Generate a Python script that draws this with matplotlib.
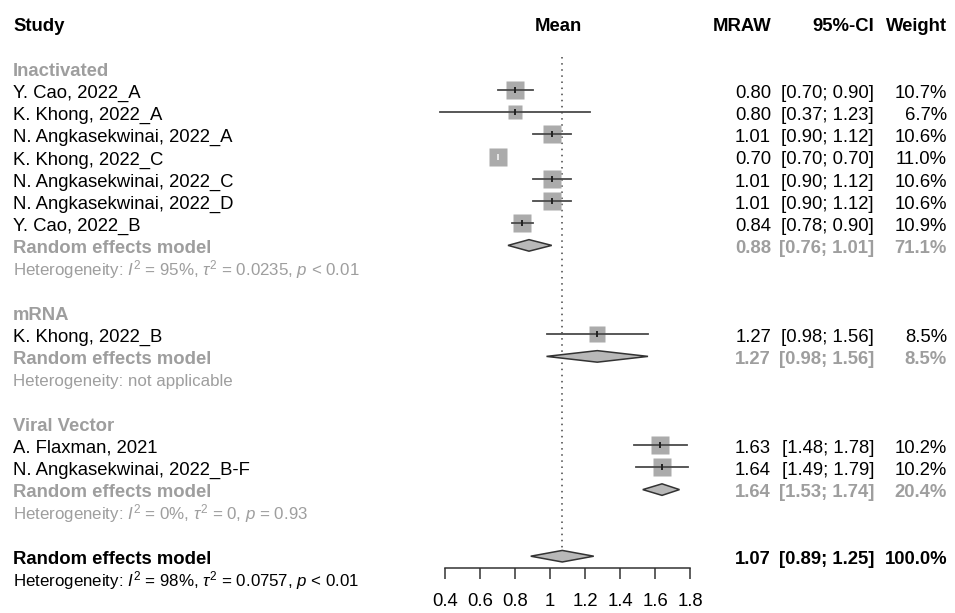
import numpy as np
import matplotlib
matplotlib.use('Agg')
import matplotlib.pyplot as plt
from matplotlib.patches import Polygon
from matplotlib.transforms import blended_transform_factory
from matplotlib.ticker import FormatStrFormatter

plt.rcParams['font.family'] = ['Liberation Sans', 'DejaVu Sans']
plt.rcParams['mathtext.fontset'] = 'custom'
plt.rcParams['mathtext.rm'] = 'Liberation Sans'
plt.rcParams['mathtext.it'] = 'Liberation Sans:italic'

# dados dos estudos (por grupo)
grupos = ['Inactivated', 'mRNA', 'Viral Vector']

estudos = [
    ['Y. Cao, 2022_A', 'K. Khong, 2022_A', 'N. Angkasekwinai, 2022_A', 'K. Khong, 2022_C',
     'N. Angkasekwinai, 2022_C', 'N. Angkasekwinai, 2022_D', 'Y. Cao, 2022_B'],
    ['K. Khong, 2022_B'],
    ['A. Flaxman, 2021', 'N. Angkasekwinai, 2022_B-F'],
]
media = [
    [0.80, 0.80, 1.01, 0.70, 1.01, 1.01, 0.84],
    [1.27],
    [1.63, 1.64],
]
inferior = [
    [0.70, 0.37, 0.90, 0.70, 0.90, 0.90, 0.78],
    [0.98],
    [1.48, 1.49],
]
superior = [
    [0.90, 1.23, 1.12, 0.70, 1.12, 1.12, 0.90],
    [1.56],
    [1.78, 1.79],
]
peso = [
    [10.7, 6.7, 10.6, 11.0, 10.6, 10.6, 10.9],
    [8.5],
    [10.2, 10.2],
]

# modelos de efeitos aleatorios por grupo
re_media = [0.88, 1.27, 1.64]
re_inf = [0.76, 0.98, 1.53]
re_sup = [1.01, 1.56, 1.74]
re_peso = [71.1, 8.5, 20.4]
heterog = [
    r'Heterogeneity: $I^2$ = 95%, $\tau^2$ = 0.0235, $p$ < 0.01',
    'Heterogeneity: not applicable',
    r'Heterogeneity: $I^2$ = 0%, $\tau^2$ = 0, $p$ = 0.93',
]

# modelo geral
geral = (1.07, 0.89, 1.25, 100.0)
heterog_geral = r'Heterogeneity: $I^2$ = 98%, $\tau^2$ = 0.0757, $p$ < 0.01'

ticks_x = [0.4, 0.6, 0.8, 1.0, 1.2, 1.4, 1.6, 1.8]

CINZA = '#9e9e9e'
FS = 13.3
FS_HET = 12.2

# escala: 0.4 -> 445 px, 1.8 -> 690 px ; linha k -> 90 + 22.2*k px
W, H = 955, 613
px_por_val = (690 - 445) / (1.8 - 0.4)
x0 = 0.4 - 445 / px_por_val
x1 = 0.4 + (W - 445) / px_por_val
dy = 22.2
y_top = -90 / dy
y_bot = (H - 90) / dy

fig = plt.figure(figsize=(W / 100, H / 100), dpi=100)
ax = fig.add_axes([0, 0, 1, 1])
ax.set_xlim(x0, x1)
ax.set_ylim(y_bot, y_top)
for s in ['top', 'left', 'right']:
    ax.spines[s].set_visible(False)
ax.set_yticks([])

tr = blended_transform_factory(ax.transAxes, ax.transData)
OFF = 0.35  # deslocamento da linha de base


def txt(xpx, y, s, ha='left', cor='black', peso_fonte='normal', fs=FS):
    ax.text(xpx / W, y + OFF, s, transform=tr, ha=ha, va='baseline',
            color=cor, fontweight=peso_fonte, fontsize=fs)


def colunas(y, m, lo, hi, w, cor='black', peso_fonte='normal'):
    txt(771, y, f'{m:.2f}', ha='right', cor=cor, peso_fonte=peso_fonte)
    txt(874, y, f'[{lo:.2f}; {hi:.2f}]', ha='right', cor=cor, peso_fonte=peso_fonte)
    txt(947, y, f'{w:.1f}%', ha='right', cor=cor, peso_fonte=peso_fonte)


def diamante(y, m, lo, hi):
    h = 0.26
    ax.add_patch(Polygon([(lo, y), (m, y - h), (hi, y), (m, y + h)], closed=True,
                         facecolor='#b8b8b8', edgecolor='#333333', lw=1.1, zorder=3))


# cabecalho
txt(13, -3, 'Study', peso_fonte='bold')
txt(558, -3, 'Mean', ha='center', peso_fonte='bold')
txt(771, -3, 'MRAW', ha='right', peso_fonte='bold')
txt(874, -3, '95%-CI', ha='right', peso_fonte='bold')
txt(947, -3, 'Weight', ha='right', peso_fonte='bold')

k = -1
for g in range(len(grupos)):
    txt(13, k, grupos[g], cor=CINZA, peso_fonte='bold')
    k += 1
    for i in range(len(estudos[g])):
        m, lo, hi, w = media[g][i], inferior[g][i], superior[g][i], peso[g][i]
        txt(13, k, estudos[g][i])
        lado = 3.962 * np.sqrt(w)
        ax.plot([m], [k], marker='s', markersize=lado, color='#ababab', mec='none', zorder=2)
        ax.plot([lo, hi], [k, k], color='#4a4a4a', lw=1.3, zorder=3)
        cor_tick = '#e8e8e8' if lo == hi else '#222222'
        ax.plot([m], [k], marker='|', markersize=4.5, mew=1.4, color=cor_tick, zorder=4)
        colunas(k, m, lo, hi, w)
        k += 1
    txt(13, k, 'Random effects model', cor=CINZA, peso_fonte='bold')
    diamante(k, re_media[g], re_inf[g], re_sup[g])
    colunas(k, re_media[g], re_inf[g], re_sup[g], re_peso[g], cor=CINZA, peso_fonte='bold')
    k += 1
    txt(13, k, heterog[g], cor=CINZA, fs=FS_HET)
    k += 2

txt(13, k, 'Random effects model', peso_fonte='bold')
diamante(k, geral[0], geral[1], geral[2])
colunas(k, *geral, peso_fonte='bold')
txt(13, k + 1, heterog_geral, fs=FS_HET)

# linha pontilhada no efeito geral
ax.plot([geral[0], geral[0]], [-1.5, k - 0.26], color='#444444', lw=1.1,
        linestyle=(0, (1, 3)), zorder=1)

# eixo x
ax.spines['bottom'].set_position(('data', (568 - 90) / dy))
ax.spines['bottom'].set_bounds(ticks_x[0], ticks_x[-1])
ax.spines['bottom'].set_color('#333333')
ax.spines['bottom'].set_linewidth(1.1)
ax.set_xticks(ticks_x)
ax.xaxis.set_major_formatter(FormatStrFormatter('%g'))
ax.tick_params(axis='x', direction='out', length=8, width=1.1, color='#333333',
               pad=10, labelsize=FS)

fig.savefig('out.png', dpi=100)
